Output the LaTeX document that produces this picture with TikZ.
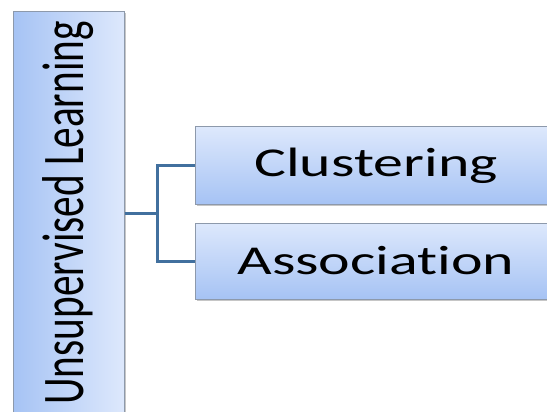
\documentclass[tikz,border=0pt]{standalone}
\usepackage{fontspec}
\usetikzlibrary{shadows}
\newfontfamily\sidefont[FakeStretch=0.7]{Carlito}
\newfontfamily\boxfont[FakeStretch=1.46, Ligatures=NoCommon]{Carlito}
\definecolor{boxtop}{HTML}{DDE8FC}
\definecolor{boxbot}{HTML}{A6C3F4}
\definecolor{boxline}{HTML}{8D99AB}
\definecolor{conncol}{HTML}{41709E}
\begin{document}
\begin{tikzpicture}[x = 1pt, y = -1pt,
		box/.style = {draw = boxline, line width = 1pt, top color = boxtop, bottom color = boxbot,
			drop shadow = {shadow xshift = 1.5pt, shadow yshift = -1.5pt, opacity = 0.45},
			inner sep = 0pt, text = black},
		conn/.style = {conncol, line width = 3pt}]
	%	canvas
	\useasboundingbox (0, 0) rectangle (547, 412);
	\clip (0, 0) rectangle (547, 412);
	
	%	left box
	\node[box, rotate = 90, shading angle = -90, minimum width = 402pt, minimum height = 111pt,
		font = \sidefont\fontsize{59}{60}\selectfont] (ul) at (68.5, 213) {Unsupervised Learning};
	
	%	right boxes
	\node[box, minimum width = 362pt, minimum height = 77pt,
		font = \boxfont\fontsize{41}{42}\selectfont] (cl) at (376, 165.5) {Clustering};
	\node[box, minimum width = 362pt, minimum height = 76pt,
		font = \boxfont\fontsize{41}{42}\selectfont] (as) at (376, 261) {Association};
	
	%	connectors
	\coordinate (fork) at (157, 213);
	\draw[conn] (ul.south |- fork) -- (fork);
	\draw[conn] (cl.west) -| (fork) |- (as.west);
\end{tikzpicture}
\end{document}
